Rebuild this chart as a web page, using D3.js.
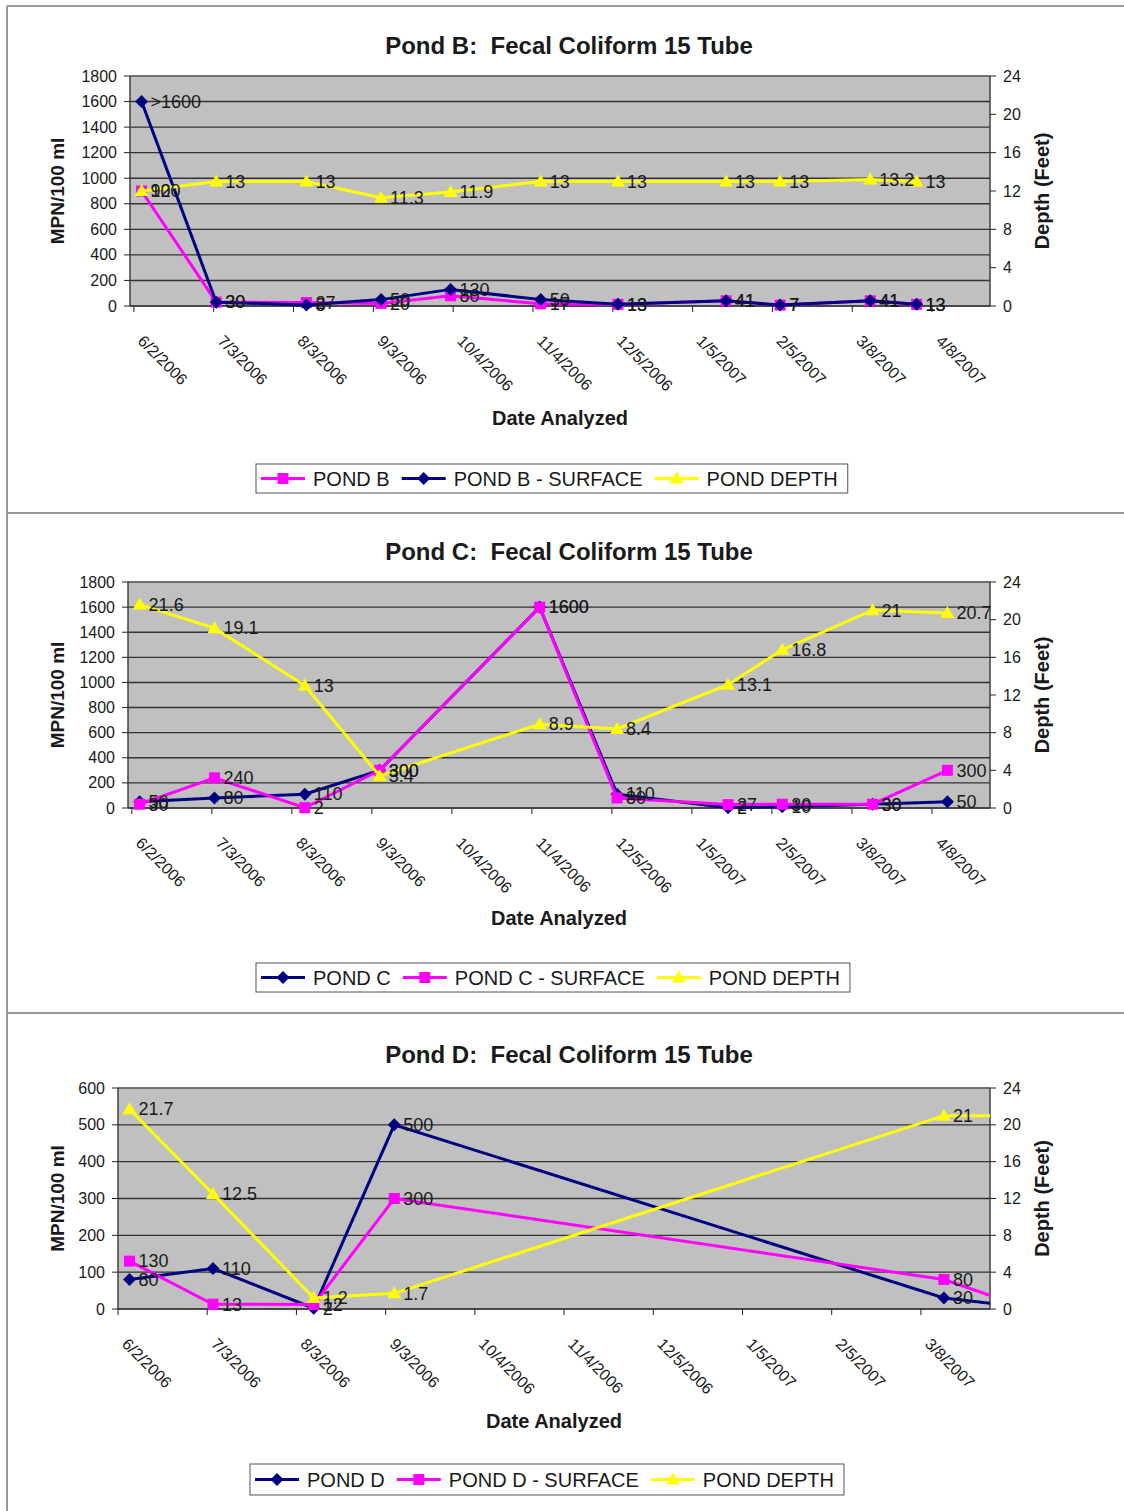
<!DOCTYPE html>
<html>
<head>
<meta charset="utf-8">
<script src="https://cdn.jsdelivr.net/npm/d3@7"></script>
<style>
  body { margin: 0; background: #fff; }
  svg text { font-family: "Liberation Sans", Arial, sans-serif; fill: #1a1a1a; white-space: pre; }
</style>
</head>
<body>
<svg width="1124" height="1511"></svg>
<script>
const svg = d3.select("svg");
const parse = d3.timeParse("%m/%d/%Y");
const fmt = d3.timeFormat("%-m/%-d/%Y");

// ---- Pond B ----
const datesB = ["6/5/2006","7/4/2006","8/8/2006","9/6/2006","10/3/2006","11/7/2006","12/7/2006","1/18/2007","2/8/2007","3/15/2007","4/2/2007"];
const pondB = [900, 30, 27, 20, 80, 17, 13, 41, 7, 41, 13];
const pondBSurface = [1600, 30, 8, 50, 130, 50, 13, 41, 7, 41, 13];
const pondBSurfaceText = [">1600", "30", "8", "50", "130", "50", "13", "41", "7", "41", "13"];
const depthB = [12, 13, 13, 11.3, 11.9, 13, 13, 13, 13, 13.2, 13];

// ---- Pond C ----
const datesC = ["6/5/2006","7/4/2006","8/8/2006","9/6/2006","11/7/2006","12/7/2006","1/19/2007","2/9/2007","3/16/2007","4/14/2007"];
const pondC = [50, 80, 110, 300, 1600, 110, 2, 10, 30, 50];
const pondCSurface = [30, 240, 2, 300, 1600, 80, 27, 30, 30, 300];
const depthC = [21.6, 19.1, 13, 3.4, 8.9, 8.4, 13.1, 16.8, 21, 20.7];

// ---- Pond D ----
const datesD = ["6/6/2006","7/5/2006","8/9/2006","9/6/2006","3/16/2007","4/14/2007"];
const pondD = [80, 110, 2, 500, 30, 4];
const pondDSurface = [130, 13, 12, 300, 80, 2];
const depthD = [21.7, 12.5, 1.2, 1.7, 21, 21];

const ticksBC = ["6/2/2006","7/3/2006","8/3/2006","9/3/2006","10/4/2006","11/4/2006","12/5/2006","1/5/2007","2/5/2007","3/8/2007","4/8/2007"];
const ticksD = ticksBC.slice(0, 10);
const depthTicks = [0, 4, 8, 12, 16, 20, 24];

const NAVY = "#000080", MAGENTA = "#ff00ff", YELLOW = "#ffff00";

const markers = {
  diamond: "M0,-6.5L6.5,0L0,6.5L-6.5,0Z",
  square: "M-5.5,-5.5H5.5V5.5H-5.5Z",
  triangle: "M0,-7L7,5H-7Z"
};

// panel frame
const frame = svg.append("g").attr("stroke", "#9a9a9a").attr("stroke-width", 2);
frame.append("line").attr("x1", 7).attr("x2", 7).attr("y1", 6).attr("y2", 1511);
frame.append("line").attr("x1", 7).attr("x2", 1124).attr("y1", 6).attr("y2", 6);
frame.append("line").attr("x1", 7).attr("x2", 1124).attr("y1", 513).attr("y2", 513);
frame.append("line").attr("x1", 7).attr("x2", 1124).attr("y1", 1013).attr("y2", 1013);

function drawChart(c, idx) {
  const g = svg.append("g");
  const x = d3.scaleTime().domain(c.domain).range([c.x0, c.x1]);
  const yL = d3.scaleLinear().domain([0, c.leftMax]).range([c.y1, c.y0]);
  const yR = d3.scaleLinear().domain([0, 24]).range([c.y1, c.y0]);

  // plot area
  g.append("rect").attr("x", c.x0).attr("y", c.y0)
    .attr("width", c.x1 - c.x0).attr("height", c.y1 - c.y0)
    .attr("fill", "#c0c0c0");

  const leftTicks = d3.range(0, c.leftMax + 1, c.leftStep);
  g.selectAll(".grid").data(leftTicks).enter().append("line")
    .attr("x1", c.x0).attr("x2", c.x1)
    .attr("y1", d => yL(d)).attr("y2", d => yL(d))
    .attr("stroke", "#333").attr("stroke-width", 1.4);

  g.append("rect").attr("x", c.x0).attr("y", c.y0)
    .attr("width", c.x1 - c.x0).attr("height", c.y1 - c.y0)
    .attr("fill", "none").attr("stroke", "#808080");

  // left axis
  g.append("line").attr("x1", c.x0).attr("x2", c.x0).attr("y1", c.y0).attr("y2", c.y1).attr("stroke", "#222");
  leftTicks.forEach(t => {
    g.append("line").attr("x1", c.x0 - 6).attr("x2", c.x0).attr("y1", yL(t)).attr("y2", yL(t)).attr("stroke", "#222");
    g.append("text").attr("x", c.x0 - 13).attr("y", yL(t)).attr("dy", "0.35em")
      .attr("text-anchor", "end").attr("font-size", 16).text(t);
  });
  // right axis
  g.append("line").attr("x1", c.x1).attr("x2", c.x1).attr("y1", c.y0).attr("y2", c.y1).attr("stroke", "#222");
  depthTicks.forEach(t => {
    g.append("line").attr("x1", c.x1).attr("x2", c.x1 + 6).attr("y1", yR(t)).attr("y2", yR(t)).attr("stroke", "#222");
    g.append("text").attr("x", c.x1 + 13).attr("y", yR(t)).attr("dy", "0.35em")
      .attr("font-size", 16).text(t);
  });
  // bottom axis
  g.append("line").attr("x1", c.x0).attr("x2", c.x1).attr("y1", c.y1).attr("y2", c.y1).attr("stroke", "#222");
  c.ticks.map(parse).forEach(t => {
    g.append("line").attr("x1", x(t)).attr("x2", x(t)).attr("y1", c.y1).attr("y2", c.y1 + 6).attr("stroke", "#222");
    g.append("text")
      .attr("transform", "translate(" + (x(t) + 3) + "," + (c.y1 + 36) + ") rotate(45)")
      .attr("font-size", 16).text(fmt(t));
  });

  // titles
  g.append("text").attr("x", 569).attr("y", c.titleY).attr("text-anchor", "middle")
    .attr("font-size", 24).attr("font-weight", "bold").text(c.title);
  g.append("text").attr("x", (c.x0 + c.x1) / 2).attr("y", c.dateY).attr("text-anchor", "middle")
    .attr("font-size", 20).attr("font-weight", "bold").text("Date Analyzed");
  g.append("text").attr("transform", "translate(64," + (c.y0 + c.y1) / 2 + ") rotate(-90)")
    .attr("text-anchor", "middle").attr("font-size", 19).attr("font-weight", "bold").text("MPN/100 ml");
  g.append("text").attr("transform", "translate(1049," + (c.y0 + c.y1) / 2 + ") rotate(-90)")
    .attr("text-anchor", "middle").attr("font-size", 20).attr("font-weight", "bold").text("Depth (Feet)");

  // series
  const clipId = "clip" + idx;
  svg.append("clipPath").attr("id", clipId).append("rect")
    .attr("x", c.x0).attr("y", c.y0 - 8).attr("width", c.x1 - c.x0).attr("height", c.y1 - c.y0 + 16);

  const labelLayer = [];
  c.series.forEach(s => {
    const y = s.axis === "right" ? yR : yL;
    const pts = s.values.map((v, i) => ({ d: parse(c.dates[i]), v: v, t: s.text ? s.text[i] : String(v) }));
    const line = d3.line().x(p => x(p.d)).y(p => y(p.v));
    g.append("path").datum(pts).attr("d", line)
      .attr("fill", "none").attr("stroke", s.color).attr("stroke-width", 3)
      .attr("clip-path", "url(#" + clipId + ")");
    const inside = pts.filter(p => p.d <= c.domain[1]);
    g.selectAll(null).data(inside).enter().append("path")
      .attr("d", markers[s.marker])
      .attr("transform", p => "translate(" + x(p.d) + "," + y(p.v) + ")")
      .attr("fill", s.color);
    inside.forEach(p => labelLayer.push({ x: x(p.d) + 9, y: y(p.v), t: p.t }));
  });
  labelLayer.forEach(l => {
    g.append("text").attr("x", l.x).attr("y", l.y).attr("dy", "0.35em")
      .attr("font-size", 18).text(l.t);
  });

  // legend
  const lg = g.append("g");
  const box = lg.append("rect").attr("x", c.legend.x).attr("y", c.legend.y)
    .attr("height", c.legend.h).attr("fill", "#fff").attr("stroke", "#555");
  let cx = c.legend.x + 5;
  const cy = c.legend.y + c.legend.h / 2;
  c.series.forEach(s => {
    lg.append("line").attr("x1", cx).attr("x2", cx + 44).attr("y1", cy).attr("y2", cy)
      .attr("stroke", s.color).attr("stroke-width", 3);
    lg.append("path").attr("d", markers[s.marker])
      .attr("transform", "translate(" + (cx + 22) + "," + cy + ")").attr("fill", s.color);
    const tx = lg.append("text").attr("x", cx + 52).attr("y", cy).attr("dy", "0.35em")
      .attr("font-size", 20).text(s.name);
    cx += 52 + tx.node().getComputedTextLength() + 12;
  });
  box.attr("width", cx - c.legend.x - 2);
}

const charts = [
  {
    title: "Pond B:  Fecal Coliform 15 Tube", titleY: 54, dateY: 425,
    x0: 130, x1: 990, y0: 76, y1: 306, leftMax: 1800, leftStep: 200,
    domain: [new Date(2006, 4, 31, 12), new Date(2007, 3, 30, 12)],
    ticks: ticksBC, dates: datesB,
    legend: { x: 256, y: 464, h: 29 },
    series: [
      { name: "POND B", values: pondB, color: MAGENTA, marker: "square" },
      { name: "POND B - SURFACE", values: pondBSurface, text: pondBSurfaceText, color: NAVY, marker: "diamond" },
      { name: "POND DEPTH", values: depthB, color: YELLOW, marker: "triangle", axis: "right" }
    ]
  },
  {
    title: "Pond C:  Fecal Coliform 15 Tube", titleY: 560, dateY: 925,
    x0: 128, x1: 990, y0: 582, y1: 808, leftMax: 1800, leftStep: 200,
    domain: [new Date(2006, 4, 31, 12), new Date(2007, 3, 30, 12)],
    ticks: ticksBC, dates: datesC,
    legend: { x: 256, y: 963, h: 29 },
    series: [
      { name: "POND C", values: pondC, color: NAVY, marker: "diamond" },
      { name: "POND C - SURFACE", values: pondCSurface, color: MAGENTA, marker: "square" },
      { name: "POND DEPTH", values: depthC, color: YELLOW, marker: "triangle", axis: "right" }
    ]
  },
  {
    title: "Pond D:  Fecal Coliform 15 Tube", titleY: 1063, dateY: 1428,
    x0: 118, x1: 990, y0: 1088, y1: 1309, leftMax: 600, leftStep: 100,
    domain: [new Date(2006, 5, 2), new Date(2007, 3, 1)],
    ticks: ticksD, dates: datesD,
    legend: { x: 250, y: 1464, h: 31 },
    series: [
      { name: "POND D", values: pondD, color: NAVY, marker: "diamond" },
      { name: "POND D - SURFACE", values: pondDSurface, color: MAGENTA, marker: "square" },
      { name: "POND DEPTH", values: depthD, color: YELLOW, marker: "triangle", axis: "right" }
    ]
  }
];

charts.forEach(drawChart);
</script>
</body>
</html>
